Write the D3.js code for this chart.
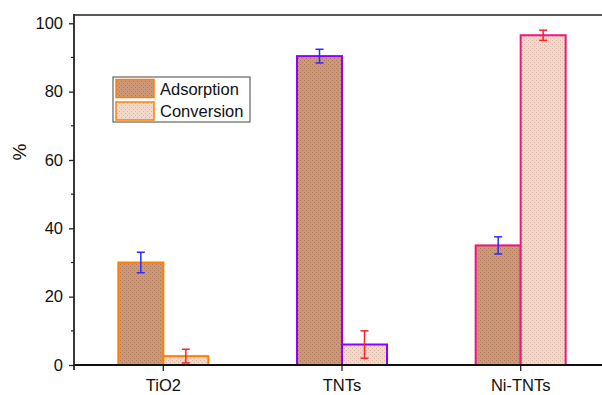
<!DOCTYPE html>
<html>
<head>
<meta charset="utf-8">
<script src="https://cdn.jsdelivr.net/npm/d3@7"></script>
<style>
  body { margin: 0; background: #fff; }
  svg { font-family: Arial, "Liberation Sans", sans-serif; }
</style>
</head>
<body>
<div id="chart"></div>
<script>
// Data
const categories = ['TiO2', 'TNTs', 'Ni-TNTs']
const seriesNames = ['Adsorption', 'Conversion']
const adsorption = [30, 90.4, 35]
const adsorptionErr = [3, 2, 2.5]
const conversion = [2.6, 6, 96.5]
const conversionErr = [2, 4, 1.5]
const yTicks = [0, 20, 40, 60, 80, 100]
const yMinorTicks = [10, 30, 50, 70, 90]

const edgeColors = ['#ff8000', '#8f00ff', '#f0157e']
const fills = ['#cc9878', '#f1d8cb']
const errColors = ['#2b2bff', '#ff2020']

const dimensions = {
  width: 602,
  height: 395,
  left: 74,
  right: 610,
  top: 15,
  bottom: 365,
}

const svg = d3.select('#chart')
  .append('svg')
  .attr('width', dimensions.width)
  .attr('height', dimensions.height)

// dotted fill patterns
const defs = svg.append('defs')
fills.forEach((c, i) => {
  const p = defs.append('pattern')
    .attr('id', 'pat' + i)
    .attr('width', 4).attr('height', 4)
    .attr('patternUnits', 'userSpaceOnUse')
  p.append('rect').attr('width', 4).attr('height', 4).attr('fill', c)
  p.append('rect').attr('x', 0).attr('y', 0).attr('width', 1).attr('height', 1)
    .attr('fill', i === 0 ? '#b07a5e' : '#dcb8a8')
  p.append('rect').attr('x', 2).attr('y', 2).attr('width', 1).attr('height', 1)
    .attr('fill', i === 0 ? '#b07a5e' : '#dcb8a8')
})

// Scales
const xScale = d3.scaleBand()
  .domain(categories)
  .range([dimensions.left, dimensions.right])

const yScale = d3.scaleLinear()
  .domain([0, 100])
  .range([dimensions.bottom, 23.3])

const barW = 45

const rows = []
categories.forEach((cat, i) => {
  rows.push({ cat, i, s: 0, v: adsorption[i], e: adsorptionErr[i] })
  rows.push({ cat, i, s: 1, v: conversion[i], e: conversionErr[i] })
})
const barX = d => xScale(d.cat) + xScale.bandwidth() / 2 + (d.s === 0 ? -barW : 0)

// bars
svg.append('g')
  .selectAll('rect')
  .data(rows)
  .join('rect')
  .attr('x', barX)
  .attr('y', d => yScale(d.v))
  .attr('width', barW)
  .attr('height', d => yScale(0) - yScale(d.v))
  .attr('fill', d => `url(#pat${d.s})`)
  .attr('stroke', d => edgeColors[d.i])
  .attr('stroke-width', 2)

// error bars
const eg = svg.append('g')
  .selectAll('g')
  .data(rows)
  .join('g')
  .attr('stroke', d => errColors[d.s])
  .attr('stroke-width', 1.5)
eg.append('line')
  .attr('x1', d => barX(d) + barW / 2).attr('x2', d => barX(d) + barW / 2)
  .attr('y1', d => yScale(d.v + d.e)).attr('y2', d => yScale(d.v - d.e))
eg.append('line')
  .attr('x1', d => barX(d) + barW / 2 - 4).attr('x2', d => barX(d) + barW / 2 + 4)
  .attr('y1', d => yScale(d.v + d.e)).attr('y2', d => yScale(d.v + d.e))
eg.append('line')
  .attr('x1', d => barX(d) + barW / 2 - 4).attr('x2', d => barX(d) + barW / 2 + 4)
  .attr('y1', d => yScale(d.v - d.e)).attr('y2', d => yScale(d.v - d.e))

// Axes
const yAxis = d3.axisLeft(yScale).tickValues(yTicks).tickSize(5).tickPadding(6)
const yg = svg.append('g')
  .attr('transform', `translate(${dimensions.left}, 0)`)
  .call(yAxis)
yg.select('.domain').remove()
yg.selectAll('.tick line').attr('stroke', '#222').attr('stroke-width', 1.3)
yg.selectAll('.tick text').attr('font-size', 16.5).attr('fill', '#111')
  .attr('font-family', 'Arial, "Liberation Sans", sans-serif')

yg.selectAll('.minor')
  .data(yMinorTicks)
  .join('line')
  .attr('x1', -3).attr('x2', 0)
  .attr('y1', d => yScale(d)).attr('y2', d => yScale(d))
  .attr('stroke', '#222').attr('stroke-width', 1.2)

const xAxis = d3.axisBottom(xScale).tickSize(6).tickPadding(8)
const xg = svg.append('g')
  .attr('transform', `translate(0, ${dimensions.bottom})`)
  .call(xAxis)
xg.select('.domain').remove()
xg.selectAll('.tick line').attr('stroke', '#222').attr('stroke-width', 1.3)
xg.selectAll('.tick text').attr('font-size', 16.5).attr('fill', '#111')
  .attr('font-family', 'Arial, "Liberation Sans", sans-serif')

// frame lines
svg.append('line')
  .attr('x1', dimensions.left).attr('x2', dimensions.right)
  .attr('y1', dimensions.bottom).attr('y2', dimensions.bottom)
  .attr('stroke', '#111').attr('stroke-width', 2)
svg.append('line')
  .attr('x1', dimensions.left).attr('x2', dimensions.right)
  .attr('y1', dimensions.top).attr('y2', dimensions.top)
  .attr('stroke', '#222').attr('stroke-width', 1.5)
svg.append('line')
  .attr('x1', dimensions.left).attr('x2', dimensions.left)
  .attr('y1', dimensions.top - 1).attr('y2', dimensions.bottom + 5)
  .attr('stroke', '#222').attr('stroke-width', 1.8)

// y label
svg.append('text')
  .attr('transform', 'translate(26, 152) rotate(-90)')
  .attr('text-anchor', 'middle')
  .attr('font-size', 19)
  .attr('fill', '#111')
  .text('%')

// Legend
const lg = svg.append('g').attr('transform', 'translate(113, 77)')
lg.append('rect')
  .attr('width', 137).attr('height', 45)
  .attr('fill', '#fff').attr('stroke', '#444').attr('stroke-width', 1)
seriesNames.forEach((name, i) => {
  lg.append('rect')
    .attr('x', 3).attr('y', 2.5 + i * 22.5)
    .attr('width', 38).attr('height', 18)
    .attr('fill', `url(#pat${i})`)
    .attr('stroke', edgeColors[0]).attr('stroke-width', 1.5)
  lg.append('text')
    .attr('x', 47).attr('y', 17.5 + i * 22.5)
    .attr('font-size', 16.5).attr('fill', '#111')
    .text(name)
})
</script>
</body>
</html>
